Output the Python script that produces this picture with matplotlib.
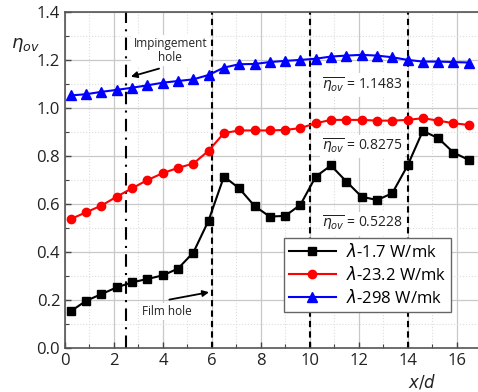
import matplotlib
matplotlib.use("Agg")
import matplotlib.pyplot as plt
from matplotlib.ticker import MultipleLocator

plt.rcParams["font.family"] = ["Open Sans", "DejaVu Sans"]
plt.rcParams["mathtext.fontset"] = "dejavusans"

# ── Data ──────────────────────────────────────────────────────────────────────
x_d = [0.24, 0.86, 1.49, 2.11, 2.74, 3.36, 3.99, 4.61, 5.24, 5.86,
       6.49, 7.11, 7.74, 8.36, 8.99, 9.61, 10.24, 10.86, 11.49, 12.11,
       12.74, 13.36, 13.99, 14.61, 15.24, 15.86, 16.49]

eta_1p7 = [0.154, 0.197, 0.225, 0.253, 0.274, 0.288, 0.303, 0.331, 0.398, 0.531,
           0.715, 0.666, 0.592, 0.548, 0.551, 0.597, 0.715, 0.761, 0.694, 0.631,
           0.617, 0.645, 0.761, 0.905, 0.875, 0.815, 0.784]

eta_23p2 = [0.538, 0.566, 0.594, 0.631, 0.666, 0.700, 0.729, 0.751, 0.769, 0.822,
            0.896, 0.907, 0.907, 0.907, 0.909, 0.917, 0.937, 0.951, 0.951, 0.951,
            0.948, 0.948, 0.951, 0.958, 0.948, 0.937, 0.930]

eta_298 = [1.053, 1.058, 1.068, 1.076, 1.085, 1.095, 1.106, 1.113, 1.120, 1.138,
           1.169, 1.183, 1.184, 1.192, 1.197, 1.201, 1.206, 1.215, 1.219, 1.222,
           1.219, 1.212, 1.201, 1.194, 1.194, 1.192, 1.190]

series_labels = [r"$\lambda$-1.7 W/mk", r"$\lambda$-23.2 W/mk", r"$\lambda$-298 W/mk"]
mean_eta = [0.5228, 0.8275, 1.1483]

impingement_x = 2.5
film_hole_x = [6, 10, 14]

# ── Figure ────────────────────────────────────────────────────────────────────
fig = plt.figure(figsize=(4.78, 3.92), dpi=100)
ax = fig.add_axes([0.136, 0.112, 0.871, 0.857])

ax.set_xlim(0, 17)
ax.set_ylim(0, 1.4)
ax.xaxis.set_major_locator(MultipleLocator(2))
ax.xaxis.set_minor_locator(MultipleLocator(1))
ax.yaxis.set_major_locator(MultipleLocator(0.2))
ax.yaxis.set_minor_locator(MultipleLocator(0.1))
ax.yaxis.set_major_formatter(plt.FormatStrFormatter("%.1f"))

ax.grid(which="major", color="#c8c8c8", lw=0.9, zorder=0)
ax.grid(which="minor", color="#dcdcdc", lw=0.8, ls=":", zorder=0)
ax.set_axisbelow(True)

ax.tick_params(which="both", direction="in", colors="#444444",
               labelcolor="#222222", labelsize=12)
ax.tick_params(which="major", length=4, width=1)
ax.tick_params(which="minor", length=3, width=0.8)
for sp in ax.spines.values():
    sp.set_color("#555555")
    sp.set_linewidth(1.2)

# hole positions
ax.axvline(impingement_x, color="black", lw=1.5, ls=(0, (6, 3, 1, 3)), zorder=2)
for xv in film_hole_x:
    ax.axvline(xv, color="black", lw=1.5, ls=(0, (3, 2)), zorder=2)

# series
ax.plot(x_d, eta_1p7, color="black", lw=1.5, marker="s", ms=5.5,
        label=series_labels[0], zorder=4)
ax.plot(x_d, eta_23p2, color="red", lw=1.5, marker="o", ms=6,
        label=series_labels[1], zorder=4)
ax.plot(x_d, eta_298, color="blue", lw=1.5, marker="^", ms=6.5,
        label=series_labels[2], zorder=4)

# mean values
box = dict(facecolor="white", edgecolor="none", pad=1.5)
for val, yy in zip(mean_eta, [0.518, 0.840, 1.097]):
    ax.text(10.5, yy, r"$\overline{\eta_{ov}}$" + f" = {val:.4f}", fontsize=10,
            va="center", ha="left", color="#222222", bbox=box, zorder=5)

# annotations
ax.text(4.3, 1.24, "Impingement\nhole", fontsize=8.5, ha="center", va="center",
        linespacing=1.1, color="#222222", bbox=box, zorder=5)
ax.annotate("", xy=(2.58, 1.128), xytext=(3.95, 1.168),
            arrowprops=dict(arrowstyle="-|>", color="black", lw=1.3,
                            mutation_scale=9), zorder=5)
ax.text(4.15, 0.152, "Film hole", fontsize=8.5, ha="center", va="center",
        color="#222222", bbox=box, zorder=5)
ax.annotate("", xy=(5.99, 0.235), xytext=(4.15, 0.2),
            arrowprops=dict(arrowstyle="-|>", color="black", lw=1.3,
                            mutation_scale=9), zorder=5)

ax.legend(loc="lower left", bbox_to_anchor=(0.526, 0.107), borderaxespad=0,
          fontsize=12, frameon=True, fancybox=False, edgecolor="#666666",
          framealpha=1, handlelength=2.8, borderpad=0.3, labelspacing=0.3,
          handletextpad=0.6)

fig.text(25 / 478, 1 - 45 / 392, r"$\eta_{ov}$", fontsize=13, ha="center",
         va="center", color="#222222")
fig.text(422 / 478, 1 - 382 / 392, r"$x/d$", fontsize=12, ha="center",
         va="center", color="#222222")

fig.savefig("out.png", dpi=100)
